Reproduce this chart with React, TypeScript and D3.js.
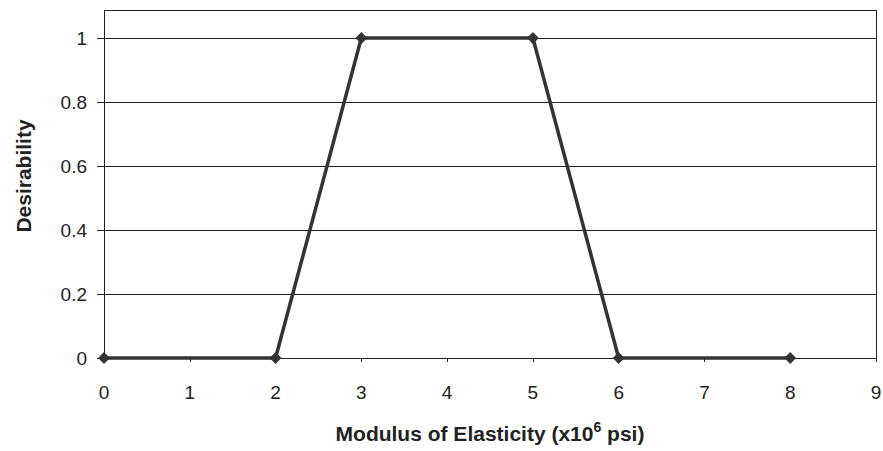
import { useEffect, useRef } from "react";
import * as d3 from "d3";

const modulus = [0, 2, 3, 5, 6, 8];
const desirability = [0, 0, 1, 1, 0, 0];
const xTicks = [0, 1, 2, 3, 4, 5, 6, 7, 8, 9];
const yTicks = [0, 0.2, 0.4, 0.6, 0.8, 1];

const App = () => {
  const ref = useRef<SVGSVGElement>(null);
  const width = 883;
  const height = 451;
  const margin = { left: 104, right: 7, top: 10, bottom: 93 };

  useEffect(() => {
    const svg = d3.select(ref.current);
    svg.selectAll("*").remove();

    const x = d3.scaleLinear().domain([0, 9]).range([margin.left, width - margin.right]);
    const y = d3.scaleLinear().domain([0, 1.0875]).range([height - margin.bottom, margin.top]);

    const g = svg.append("g").style("font-family", "Liberation Sans, Arial, sans-serif");

    // gridlines (top one is the frame)
    g.selectAll("line.grid")
      .data(yTicks.concat([1.0875]))
      .enter()
      .append("line")
      .attr("x1", x(0))
      .attr("x2", x(9))
      .attr("y1", (d) => Math.round(y(d)) + 0.5)
      .attr("y2", (d) => Math.round(y(d)) + 0.5)
      .attr("stroke", "#222")
      .attr("stroke-width", 1);

    // side borders
    [0, 9].forEach((v) => {
      g.append("line")
        .attr("x1", Math.round(x(v)) + 0.5)
        .attr("x2", Math.round(x(v)) + 0.5)
        .attr("y1", y(1.0875))
        .attr("y2", y(0))
        .attr("stroke", "#222");
    });

    // y ticks
    g.selectAll("line.ytick")
      .data(yTicks)
      .enter()
      .append("line")
      .attr("x1", x(0) - 7)
      .attr("x2", x(0))
      .attr("y1", (d) => Math.round(y(d)) + 0.5)
      .attr("y2", (d) => Math.round(y(d)) + 0.5)
      .attr("stroke", "#222");

    g.selectAll("text.ylab")
      .data(yTicks)
      .enter()
      .append("text")
      .attr("x", x(0) - 17)
      .attr("y", (d) => y(d) + 7)
      .attr("text-anchor", "end")
      .style("font-size", "19px")
      .attr("fill", "#222")
      .text((d) => d3.format("")(d));

    // x ticks
    g.selectAll("line.xtick")
      .data(xTicks)
      .enter()
      .append("line")
      .attr("x1", (d) => Math.round(x(d)) + 0.5)
      .attr("x2", (d) => Math.round(x(d)) + 0.5)
      .attr("y1", y(0))
      .attr("y2", y(0) + 4)
      .attr("stroke", "#222");

    g.selectAll("text.xlab")
      .data(xTicks)
      .enter()
      .append("text")
      .attr("x", (d) => x(d))
      .attr("y", y(0) + 41)
      .attr("text-anchor", "middle")
      .style("font-size", "19px")
      .attr("fill", "#222")
      .text((d) => d);

    // series line
    const points = modulus.map((m, i) => [m, desirability[i]] as [number, number]);
    const line = d3
      .line<[number, number]>()
      .x((d) => x(d[0]))
      .y((d) => y(d[1]));

    g.append("path")
      .datum(points)
      .attr("d", line)
      .attr("fill", "none")
      .attr("stroke", "#333")
      .attr("stroke-width", 3.5)
      .attr("stroke-linejoin", "round");

    const diamond = d3.symbol().type(d3.symbolDiamond2).size(90);
    g.selectAll("path.marker")
      .data(points)
      .enter()
      .append("path")
      .attr("d", diamond)
      .attr("transform", (d) => "translate(" + x(d[0]) + "," + y(d[1]) + ")")
      .attr("fill", "#333");

    // axis titles
    const xt = g
      .append("text")
      .attr("x", (x(0) + x(9)) / 2)
      .attr("y", 441)
      .attr("text-anchor", "middle")
      .style("font-size", "21px")
      .style("font-weight", "bold")
      .attr("fill", "#222");
    xt.append("tspan").text("Modulus of Elasticity (x10");
    xt.append("tspan").attr("dy", -9).style("font-size", "14px").text("6");
    xt.append("tspan").attr("dy", 9).text(" psi)");

    g.append("text")
      .attr("transform", "translate(31,176) rotate(-90)")
      .attr("text-anchor", "middle")
      .style("font-size", "21px")
      .style("font-weight", "bold")
      .attr("fill", "#222")
      .text("Desirability");
  }, []);

  return (
    <svg
      ref={ref}
      width={width}
      height={height}
      style={{ position: "absolute", left: 0, top: 0, background: "#fff" }}
    />
  );
};

export default App;
